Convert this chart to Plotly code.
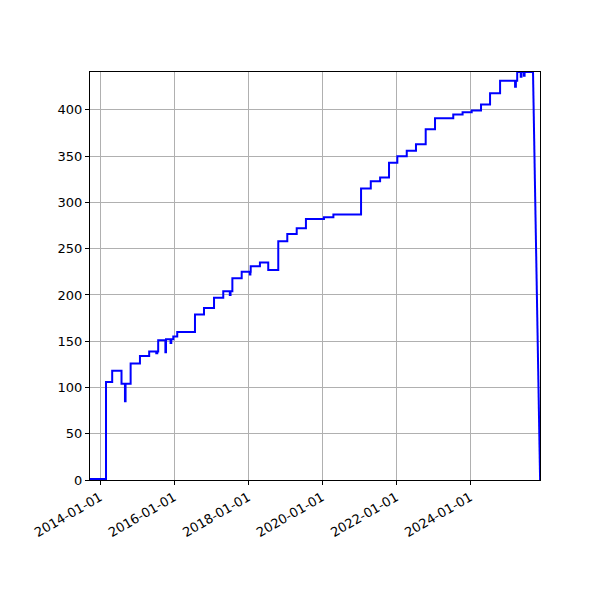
import plotly.graph_objects as go

# change points of the step series
dates = [
    "2013-09-24", "2014-03-01", "2014-05-01", "2014-08-01", "2014-09-04", "2014-09-10",
    "2014-10-30", "2015-01-30", "2015-05-01", "2015-07-10", "2015-07-20", "2015-07-29",
    "2015-10-08", "2015-10-14", "2015-11-28", "2015-12-05", "2015-12-25", "2016-02-02",
    "2016-07-26", "2016-10-23", "2017-01-30", "2017-05-01", "2017-07-05", "2017-07-12",
    "2017-07-30", "2017-10-30", "2018-01-18", "2018-01-24", "2018-01-27", "2018-04-28",
    "2018-07-19", "2018-10-26", "2019-01-23", "2019-04-26", "2019-07-26", "2020-01-20",
    "2020-04-22", "2021-01-20", "2021-04-26", "2021-07-27", "2021-10-23", "2022-01-13",
    "2022-04-16", "2022-07-16", "2022-10-20", "2023-01-20", "2023-07-19", "2023-10-19",
    "2024-01-17", "2024-04-18", "2024-07-16", "2024-10-23", "2025-03-20", "2025-03-28",
    "2025-04-10", "2025-05-15", "2025-05-22", "2025-06-15", "2025-06-22", "2025-09-13",
]
values = [
    1, 106, 118, 104, 85, 104,
    126, 134, 139, 137, 139, 151,
    138, 152, 148, 152, 155, 160,
    179, 186, 197, 204, 200, 204,
    218, 225, 222, 225, 231, 235,
    227, 258, 266, 272, 282, 284,
    287, 315, 323, 327, 343, 350,
    356, 363, 379, 391, 395, 397.5,
    399.5, 406, 418, 431.5, 425, 431.5,
    441, 436, 441, 437, 441, 441,
]

# last sample drops straight to zero
end_dates = ["2025-09-13", "2025-11-22"]
end_values = [441, 0]

tick_dates = ["2014-01-01", "2016-01-01", "2018-01-01", "2020-01-01", "2022-01-01", "2024-01-01"]

fig = go.Figure()
fig.add_trace(go.Scatter(x=dates, y=values, mode="lines", line_shape="hv",
                         line=dict(color="#0000ff", width=2)))
fig.add_trace(go.Scatter(x=end_dates, y=end_values, mode="lines",
                         line=dict(color="#0000ff", width=2)))

axis_style = dict(showline=True, mirror=True, linecolor="black", linewidth=1,
                  ticks="outside", ticklen=4, tickcolor="black", automargin=False,
                  showgrid=True, gridcolor="#b0b0b0", gridwidth=1, zeroline=False)

fig.update_xaxes(type="date", range=["2013-09-24", "2025-11-21"],
                 tickvals=tick_dates, ticktext=tick_dates, tickangle=-30, **axis_style)
fig.update_yaxes(range=[0, 441], tickvals=[0, 50, 100, 150, 200, 250, 300, 350, 400], **axis_style)

# the page body adds 8px, so margins are shifted to keep the axes box in place
fig.update_layout(width=600, height=600, showlegend=False,
                  margin=dict(l=82, r=68, t=64, b=128),
                  paper_bgcolor="white", plot_bgcolor="white",
                  font=dict(family="DejaVu Sans", size=13, color="black"))

fig.write_html("out.html")
